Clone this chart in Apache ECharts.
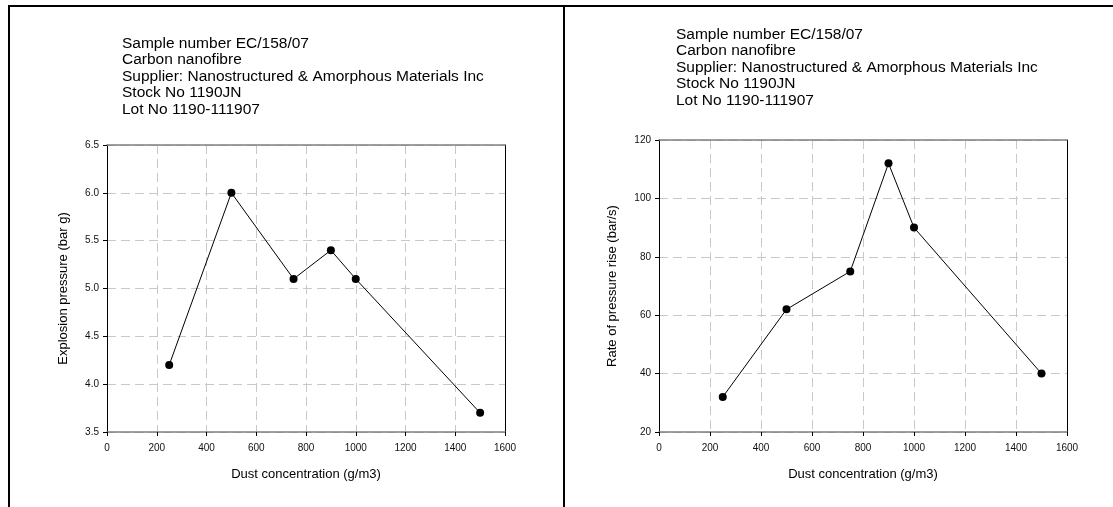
<!DOCTYPE html>
<html>
<head>
<meta charset="utf-8">
<script src="https://cdn.jsdelivr.net/npm/echarts@6/dist/echarts.min.js"></script>
<style>
html,body{margin:0;padding:0;background:#fff;}
#c{width:1113px;height:507px;}
</style>
</head>
<body>
<div id="c"></div>
<script>
var headerLines = [
  'Sample number EC/158/07',
  'Carbon nanofibre',
  'Supplier: Nanostructured & Amorphous Materials Inc',
  'Stock No 1190JN',
  'Lot No 1190-111907'
];
var concentration = [250, 500, 750, 900, 1000, 1500];
var explosionPressure = [4.2, 6.0, 5.1, 5.4, 5.1, 3.7];
var pressureRise = [32, 62, 75, 112, 90, 40];
var xTitle = 'Dust concentration (g/m3)';
var yTitleLeft = 'Explosion pressure (bar g)';
var yTitleRight = 'Rate of pressure rise (bar/s)';

var FONT = '"Liberation Sans", Arial, sans-serif';
var gridColor = '#c8c8c8';
var TICK_FS = 10;
var NAME_FS = 13;

function pairs(xs, ys){ return xs.map(function(x,i){ return [x, ys[i]]; }); }

function xAxisMain(idx){
  return {
    type: 'value', gridIndex: idx, min: 0, max: 1600, interval: 200, position: 'bottom',
    name: xTitle, nameLocation: 'middle', nameGap: 36,
    nameTextStyle: {fontFamily: FONT, fontSize: NAME_FS, color: '#000'},
    axisLine: {show: true, onZero: false, lineStyle: {color: '#7f7f7f', width: 1.5}},
    axisTick: {show: true, inside: false, length: 4, lineStyle: {color: '#000'}},
    axisLabel: {fontFamily: FONT, fontSize: TICK_FS, color: '#111', margin: 11,
                formatter: function(v){ return String(v); }},
    splitLine: {show: true, lineStyle: {color: gridColor, type: [9,5], width: 1}}
  };
}
function xAxisTop(idx){
  return {
    type: 'value', gridIndex: idx, min: 0, max: 1600, position: 'top',
    axisLine: {show: true, onZero: false, lineStyle: {color: '#7f7f7f', width: 1.5}},
    axisTick: {show: false}, axisLabel: {show: false}, splitLine: {show: false}
  };
}
function yAxisMain(idx, min, max, interval, name, gap, fmt){
  return {
    type: 'value', gridIndex: idx, min: min, max: max, interval: interval, position: 'left',
    name: name, nameLocation: 'middle', nameGap: gap, nameRotate: 90,
    nameTextStyle: {fontFamily: FONT, fontSize: NAME_FS, color: '#000'},
    axisLine: {show: true, onZero: false, lineStyle: {color: '#000', width: 1}},
    axisTick: {show: true, inside: false, length: 4, lineStyle: {color: '#000'}},
    axisLabel: {fontFamily: FONT, fontSize: TICK_FS, color: '#111', margin: 8, formatter: fmt},
    splitLine: {show: true, lineStyle: {color: gridColor, type: [9,5], width: 1}}
  };
}
function yAxisRight(idx, min, max){
  return {
    type: 'value', gridIndex: idx, min: min, max: max, position: 'right',
    axisLine: {show: true, onZero: false, lineStyle: {color: '#000', width: 1}},
    axisTick: {show: false}, axisLabel: {show: false}, splitLine: {show: false}
  };
}

var chart = echarts.init(document.getElementById('c'), null, {renderer: 'canvas'});
chart.setOption({
  backgroundColor: '#fff',
  animation: false,
  title: [
    {text: headerLines.join('\n'), left: 122, top: 35, padding: 0,
     textStyle: {fontFamily: FONT, fontSize: 15.5, fontWeight: 'normal', color: '#000', lineHeight: 16.5}},
    {text: headerLines.join('\n'), left: 676, top: 26, padding: 0,
     textStyle: {fontFamily: FONT, fontSize: 15.5, fontWeight: 'normal', color: '#000', lineHeight: 16.5}}
  ],
  grid: [
    {left: 107, top: 145, width: 398, height: 287, containLabel: false},
    {left: 659, top: 140, width: 408, height: 292, containLabel: false}
  ],
  xAxis: [xAxisMain(0), xAxisTop(0), xAxisMain(1), xAxisTop(1)],
  yAxis: [
    yAxisMain(0, 3.5, 6.5, 0.5, yTitleLeft, 37, function(v){ return v.toFixed(1); }),
    yAxisRight(0, 3.5, 6.5),
    yAxisMain(1, 20, 120, 20, yTitleRight, 40, function(v){ return String(v); }),
    yAxisRight(1, 20, 120)
  ],
  series: [
    {type: 'line', xAxisIndex: 0, yAxisIndex: 0, data: pairs(concentration, explosionPressure),
     symbol: 'circle', symbolSize: 8, lineStyle: {color: '#000', width: 1},
     itemStyle: {color: '#000', borderWidth: 0}},
    {type: 'line', xAxisIndex: 2, yAxisIndex: 2, data: pairs(concentration, pressureRise),
     symbol: 'circle', symbolSize: 8, lineStyle: {color: '#000', width: 1},
     itemStyle: {color: '#000', borderWidth: 0}}
  ],
  graphic: [
    {type: 'line', shape: {x1: 8, y1: 6, x2: 1113, y2: 6}, style: {stroke: '#000', lineWidth: 2}},
    {type: 'line', shape: {x1: 9, y1: 5, x2: 9, y2: 507}, style: {stroke: '#000', lineWidth: 2}},
    {type: 'line', shape: {x1: 564, y1: 5, x2: 564, y2: 507}, style: {stroke: '#000', lineWidth: 2}}
  ]
});
</script>
</body>
</html>
